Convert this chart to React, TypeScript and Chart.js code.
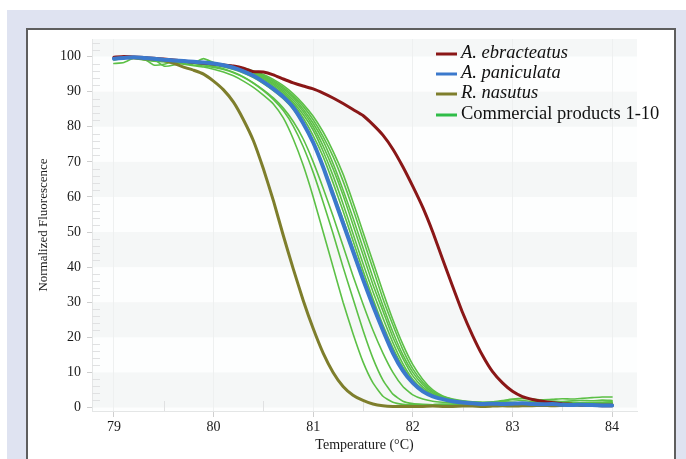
import React, { useEffect, useRef } from "react";
import { Chart, registerables } from "chart.js";
Chart.register(...registerables);

const temps = [
  79.0, 79.1, 79.2, 79.3, 79.4, 79.5, 79.6, 79.7, 79.8, 79.9,
  80.0, 80.1, 80.2, 80.3, 80.4, 80.5, 80.6, 80.7, 80.8, 80.9,
  81.0, 81.1, 81.2, 81.3, 81.4, 81.5, 81.6, 81.7, 81.8, 81.9,
  82.0, 82.1, 82.2, 82.3, 82.4, 82.5, 82.6, 82.7, 82.8, 82.9,
  83.0, 83.1, 83.2, 83.3, 83.4, 83.5, 83.6, 83.7, 83.8, 83.9,
  84.0,
];

const ebracteatus = [
  99.8, 100, 99.9, 99.7, 99.5, 99.3, 99.0, 98.7, 98.4, 98.1,
  97.9, 97.6, 97.3, 96.7, 95.7, 95.6, 94.8, 93.6, 92.5, 91.6,
  90.8, 89.6, 88.2, 86.6, 84.9, 83.2, 80.6, 77.6, 73.6, 68.6,
  63.0, 57.0, 50.0, 42.2, 34.5, 27.0, 20.5, 14.8, 10.2, 7.0,
  4.6, 3.1, 2.3, 1.8, 1.4, 1.1, 0.9, 0.8, 0.6, 0.5,
  0.5,
];

const paniculata = [
  99.4, 99.6, 99.8, 99.6, 99.4, 99.1, 98.9, 98.7, 98.5, 98.3,
  98.0, 97.5, 96.8, 95.8, 94.5, 92.8, 90.8, 88.5, 85.5, 81.0,
  75.5, 68.5, 60.5, 52.5, 44.5, 36.5, 29.0, 22.0, 15.5, 10.5,
  7.0, 4.6, 3.2, 2.4, 1.8, 1.4, 1.2, 1.0, 1.1, 1.0,
  1.1, 1.2, 1.0, 0.9, 1.0, 0.8, 0.7, 0.8, 0.7, 0.6,
  0.6,
];

const nasutus = [
  99.5, 99.7, 99.6, 99.4, 99.2, 98.9, 98.1, 97.0, 96.1, 95.0,
  93.0, 90.5, 87.0, 82.0, 76.0, 68.0, 59.0, 49.0, 39.5, 30.5,
  22.5, 15.5, 10.0, 6.0, 3.5, 2.0, 1.0, 0.5, 0.3, 0.3,
  0.3, 0.3, 0.4, 0.3, 0.3, 0.4, 0.4, 0.3, 0.4, 0.5,
  0.4, 0.5, 0.5, 0.6, 0.5, 0.6, 0.7, 0.6, 0.7, 0.8,
  0.8,
];

const product1 = [
  99.0, 99.5, 99.6, 99.2, 98.8, 98.6, 98.2, 97.8, 97.4, 97.0,
  96.4, 95.6, 94.5, 93.0, 91.2, 89.0, 86.5, 82.5, 76.5, 69.0,
  60.0, 50.0, 40.0, 30.0, 21.0, 13.0, 7.0, 3.2, 1.5, 0.9,
  0.8, 0.7, 0.8, 0.9, 0.8, 0.9, 1.0, 0.9, 1.1, 1.0,
  1.2, 1.1, 1.0, 1.2, 1.1, 1.0, 1.2, 1.1, 1.3, 1.2,
  1.3,
];
const product2 = [
  99.3, 99.8, 99.5, 99.0, 98.7, 98.5, 98.3, 98.0, 97.6, 97.3,
  96.9, 96.3, 95.4, 94.1, 92.4, 90.3, 87.8, 84.6, 80.2, 74.3,
  67.0, 58.5, 49.5, 40.0, 31.0, 22.0, 14.0, 7.8, 3.8, 1.8,
  1.1, 0.9, 0.8, 0.9, 1.0, 0.9, 1.0, 1.1, 1.0, 1.2,
  1.1, 1.0, 0.9, 1.0, 0.9, 1.1, 1.0, 0.9, 1.0, 0.9,
  1.0,
];
const product3 = [
  98.0, 98.3, 99.6, 99.8, 99.5, 99.2, 98.9, 98.5, 98.1, 97.7,
  97.2, 96.5, 95.5, 94.2, 92.5, 90.5, 88.2, 85.3, 81.5, 76.5,
  70.0, 62.5, 54.5, 46.0, 37.5, 29.5, 22.0, 15.5, 10.0, 6.0,
  3.6, 2.4, 1.8, 1.5, 1.3, 1.2, 1.1, 1.2, 1.4, 1.8,
  2.2, 2.0, 1.7, 1.5, 1.6, 1.4, 1.5, 1.3, 1.4, 1.5,
  1.6,
];
const product4 = [
  99.6, 99.9, 99.7, 99.4, 97.6, 97.8, 98.6, 98.5, 98.3, 98.1,
  97.8, 97.4, 96.8, 96.0, 94.9, 93.5, 91.6, 89.3, 86.5, 82.5,
  77.5, 71.5, 64.0, 56.0, 47.5, 39.0, 31.0, 23.5, 17.0, 11.5,
  7.5, 5.0, 3.4, 2.5, 1.9, 1.6, 1.4, 1.3, 1.2, 1.3,
  1.2, 1.1, 1.2, 1.0, 1.1, 1.0, 0.9, 1.0, 0.9, 1.0,
  0.9,
];
const product5 = [
  99.5, 99.6, 99.8, 99.5, 99.2, 97.3, 97.6, 98.5, 98.4, 98.2,
  97.9, 97.5, 97.0, 96.2, 95.2, 93.8, 92.0, 89.8, 87.0, 83.5,
  79.0, 73.0, 66.0, 58.0, 49.5, 41.0, 33.0, 25.5, 18.5, 12.5,
  8.0, 5.2, 3.5, 2.5, 1.9, 1.5, 1.3, 1.2, 1.4, 1.6,
  1.5, 1.3, 1.4, 1.6, 1.8, 1.7, 1.9, 2.0, 1.9, 2.1,
  2.0,
];
const product6 = [
  99.7, 99.9, 99.7, 99.5, 99.3, 99.0, 98.7, 98.4, 98.2, 99.4,
  98.3, 97.6, 97.1, 96.4, 95.4, 94.1, 92.4, 90.3, 87.6, 84.3,
  80.0, 74.5, 68.0, 60.5, 52.0, 43.5, 35.0, 27.5, 20.0, 14.0,
  9.0, 5.8, 3.8, 2.7, 2.0, 1.6, 1.4, 1.3, 1.2, 1.1,
  1.2, 1.0, 1.1, 0.9, 1.0, 0.9, 1.0, 0.8, 0.9, 0.8,
  0.9,
];
const product7 = [
  99.2, 99.5, 99.7, 99.6, 99.3, 99.0, 98.8, 98.6, 98.4, 98.2,
  97.9, 97.6, 97.2, 96.5, 95.6, 94.4, 92.8, 90.8, 88.3, 85.0,
  81.0, 76.0, 69.5, 62.0, 54.0, 45.5, 37.0, 29.0, 21.5, 15.0,
  10.0, 6.5, 4.2, 2.9, 2.1, 1.7, 1.5, 1.4, 1.6, 2.0,
  2.4, 2.6, 2.4, 2.2, 2.3, 2.5, 2.4, 2.6, 2.8, 3.0,
  3.0,
];
const product8 = [
  99.4, 99.7, 99.6, 99.4, 99.2, 98.9, 98.7, 98.5, 98.3, 98.1,
  97.8, 97.5, 97.1, 96.5, 95.7, 94.6, 93.1, 91.2, 88.8, 85.8,
  82.0, 77.2, 71.5, 64.5, 56.5, 48.0, 39.5, 31.0, 23.5, 16.5,
  11.0, 7.2, 4.6, 3.1, 2.3, 1.8, 1.5, 1.3, 1.2, 1.1,
  1.0, 1.1, 1.0, 0.9, 1.0, 1.1, 1.0, 1.2, 1.1, 1.0,
  1.1,
];
const product9 = [
  99.5, 99.7, 99.8, 99.5, 99.2, 98.9, 98.6, 98.3, 98.0, 97.8,
  97.5, 97.0, 96.3, 95.3, 94.0, 92.3, 90.3, 88.0, 85.0, 80.8,
  75.5, 69.0, 61.5, 53.5, 45.5, 37.5, 30.0, 23.0, 16.5, 11.2,
  7.4, 4.8, 3.3, 2.4, 1.8, 1.5, 1.3, 1.2, 1.1, 1.2,
  1.3, 1.2, 1.1, 1.2, 1.3, 1.2, 1.1, 1.3, 1.2, 1.3,
  1.4,
];
const product10 = [
  99.6, 99.8, 99.7, 99.5, 99.3, 99.1, 98.8, 98.6, 98.4, 98.2,
  98.0, 97.7, 97.3, 96.7, 95.9, 94.9, 93.5, 91.7, 89.4, 86.5,
  83.0, 78.5, 73.0, 66.5, 58.5, 50.0, 41.5, 33.0, 25.0, 18.0,
  12.2, 8.0, 5.0, 3.3, 2.4, 1.9, 1.6, 1.5, 1.4, 1.3,
  1.4, 1.3, 1.2, 1.3, 1.2, 1.3, 1.2, 1.4, 1.3, 1.4,
  1.5,
];
const commercialProducts = [
  product1, product2, product3, product4, product5,
  product6, product7, product8, product9, product10,
];

const xTicks = [79, 80, 81, 82, 83, 84];
const yTicks = [0, 10, 20, 30, 40, 50, 60, 70, 80, 90, 100];
const grayBands = [[0, 10], [20, 30], [40, 50], [60, 70], [80, 90], [100, 105]];

const legendLabels = ["A. ebracteatus", "A. paniculata", "R. nasutus", "Commercial products 1-10"];
const legendItalic = [true, true, true, false];

const COLORS = {
  ebracteatus: "#8a1717",
  paniculata: "#3b79cc",
  nasutus: "#7e7e2c",
  commercial: "#5cc046",
  commercialLegend: "#2fbd48",
};
const legendColors = [COLORS.ebracteatus, COLORS.paniculata, COLORS.nasutus, COLORS.commercialLegend];

const SERIF = "'Liberation Serif', 'Times New Roman', serif";

const toPoints = (vals: number[]) => vals.map((v, i) => ({ x: temps[i], y: v }));

export default function App() {
  const canvasRef = useRef<HTMLCanvasElement | null>(null);

  useEffect(() => {
    const canvas = canvasRef.current;
    if (!canvas) return;

    const bandsPlugin = {
      id: "bands",
      beforeDraw(chart: any) {
        const { ctx, chartArea, scales } = chart;
        const y = scales.y;
        ctx.save();
        ctx.beginPath();
        ctx.rect(chartArea.left, chartArea.top, chartArea.right - chartArea.left, chartArea.bottom - chartArea.top);
        ctx.clip();
        ctx.fillStyle = "#fdfefe";
        ctx.fillRect(chartArea.left, chartArea.top, chartArea.right - chartArea.left, chartArea.bottom - chartArea.top);
        ctx.fillStyle = "#f5f7f7";
        for (const [a, b] of grayBands) {
          const y1 = y.getPixelForValue(b);
          const y0 = y.getPixelForValue(a);
          ctx.fillRect(chartArea.left, y1, chartArea.right - chartArea.left, y0 - y1);
        }
        ctx.restore();
      },
    };

    const minorTicksPlugin = {
      id: "minorTicks",
      beforeDatasetsDraw(chart: any) {
        const { ctx, chartArea, scales } = chart;
        ctx.save();
        ctx.strokeStyle = "#e0e1e2";
        ctx.lineWidth = 1;
        ctx.beginPath();
        for (let v = 0; v <= 104; v += 2) {
          if (v % 10 === 0) continue;
          const py = Math.round(scales.y.getPixelForValue(v)) + 0.5;
          ctx.moveTo(chartArea.left, py);
          ctx.lineTo(chartArea.left + 8, py);
        }
        for (const t of xTicks) {
          const px = Math.round(scales.x.getPixelForValue(t + 0.5)) + 0.5;
          if (px > chartArea.right) continue;
          ctx.moveTo(px, chartArea.bottom);
          ctx.lineTo(px, chartArea.bottom - 10);
        }
        ctx.stroke();
        ctx.restore();
      },
    };

    const legendPlugin = {
      id: "customLegend",
      afterDraw(chart: any) {
        const { ctx } = chart;
        ctx.save();
        const lineX0 = 436;
        const lineX1 = 457;
        const textX = 461;
        const rowY = [53, 73, 93, 114];
        legendLabels.forEach((label, i) => {
          ctx.strokeStyle = legendColors[i];
          ctx.lineWidth = 3;
          ctx.beginPath();
          ctx.moveTo(lineX0, rowY[i] + 1);
          ctx.lineTo(lineX1, rowY[i] + 1);
          ctx.stroke();
          ctx.fillStyle = "#111";
          ctx.font = `${legendItalic[i] ? "italic " : ""}18.5px ${SERIF}`;
          ctx.textBaseline = "middle";
          ctx.textAlign = "left";
          ctx.fillText(label, textX, rowY[i]);
        });
        ctx.restore();
      },
    };

    const datasets: any[] = [
      {
        label: "A. paniculata",
        data: toPoints(paniculata),
        borderColor: COLORS.paniculata,
        borderWidth: 4,
      },
      {
        label: "A. ebracteatus",
        data: toPoints(ebracteatus),
        borderColor: COLORS.ebracteatus,
        borderWidth: 3,
      },
      {
        label: "R. nasutus",
        data: toPoints(nasutus),
        borderColor: COLORS.nasutus,
        borderWidth: 3,
      },
      ...commercialProducts.map((vals, i) => ({
        label: `Commercial product ${i + 1}`,
        data: toPoints(vals),
        borderColor: COLORS.commercial,
        borderWidth: 1.6,
      })),
    ];

    const chart = new Chart(canvas, {
      type: "line",
      data: { datasets },
      options: {
        animation: false,
        responsive: false,
        devicePixelRatio: 1,
        layout: { padding: { left: 0, top: 39, right: 49, bottom: 0 } },
        elements: {
          point: { radius: 0, hoverRadius: 0 },
          line: { tension: 0.15, borderCapStyle: "round", borderJoinStyle: "round" },
        },
        plugins: {
          legend: { display: false },
          tooltip: { enabled: false },
        },
        scales: {
          x: {
            type: "linear",
            min: 78.78,
            max: 84.25,
            afterFit(scale: any) {
              scale.height = 48;
            },
            afterBuildTicks(scale: any) {
              scale.ticks = xTicks.map((v) => ({ value: v }));
            },
            ticks: {
              color: "#1a1a1a",
              font: { family: SERIF, size: 14 },
              padding: 2,
              maxRotation: 0,
              callback: (v: any) => String(v),
            },
            grid: {
              color: "#eef0f0",
              tickColor: "#cfcfcf",
              tickLength: 6,
              drawOnChartArea: true,
            },
            border: { display: true, color: "#e4e6e6" },
            title: {
              display: true,
              text: "Temperature (°C)",
              color: "#1a1a1a",
              font: { family: SERIF, size: 14 },
              padding: { top: 0, bottom: 5 },
            },
          },
          y: {
            type: "linear",
            min: -1,
            max: 105,
            afterFit(scale: any) {
              scale.width = 92;
            },
            afterBuildTicks(scale: any) {
              scale.ticks = yTicks.map((v) => ({ value: v }));
            },
            ticks: {
              color: "#1a1a1a",
              font: { family: SERIF, size: 14 },
              padding: 6,
              callback: (v: any) => String(v),
            },
            grid: {
              drawOnChartArea: false,
              tickColor: "#cfcfcf",
              tickLength: 5,
            },
            border: { display: true, color: "#e4e6e6" },
            title: {
              display: true,
              text: "Normalized Fluorescence",
              color: "#1a1a1a",
              font: { family: SERIF, size: 13 },
              padding: { top: 36, bottom: 0 },
            },
          },
        },
      },
      plugins: [bandsPlugin, minorTicksPlugin, legendPlugin],
    });

    return () => chart.destroy();
  }, []);

  return (
    <div style={{ position: "fixed", left: 0, top: 0, width: 686, height: 459, background: "#ffffff", overflow: "hidden" }}>
      <div style={{ position: "absolute", left: 7, top: 10, width: 679, height: 449, background: "#dfe3f1" }} />
      <div
        style={{
          position: "absolute",
          left: 26,
          top: 28,
          width: 646,
          height: 440,
          background: "#ffffff",
          borderLeft: "2px solid #5e5e5e",
          borderTop: "2px solid #5e5e5e",
          borderRight: "2px solid #5e5e5e",
        }}
      />
      <canvas ref={canvasRef} width={686} height={459} style={{ position: "absolute", left: 0, top: 0, width: 686, height: 459 }} />
    </div>
  );
}
